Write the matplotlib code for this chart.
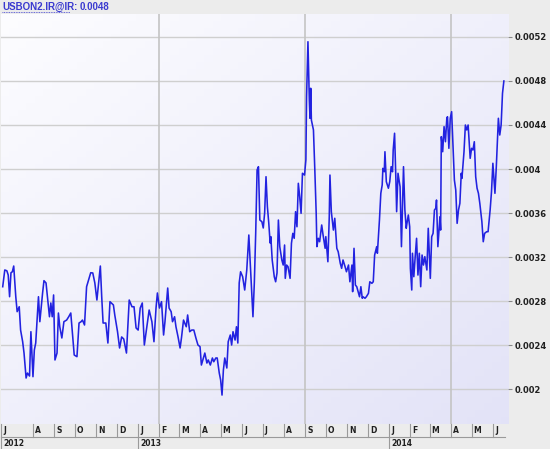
import numpy as np
import pandas as pd
import matplotlib
matplotlib.use('Agg')
import matplotlib.pyplot as plt
import matplotlib.dates as mdates
import matplotlib.transforms as mtransforms

# series: days since 2012-06-18 and value in units of 1e-4
start = pd.Timestamp('2012-06-18')
day_offset = [
    0, 3, 6, 8, 10, 12, 14, 16, 19, 21, 24, 26, 29, 31, 34, 36, 39, 41, 44, 46,
    48, 52, 54, 58, 60, 63, 65, 68, 70, 72, 74, 76, 79, 81, 83, 86, 89, 93, 96, 99,
    101, 104, 108, 111, 114, 116, 119, 122, 128, 131, 134, 137, 142, 144, 146, 150, 153, 156, 161, 163,
    167, 170, 173, 176, 180, 184, 188, 191, 194, 197, 200, 203, 206, 209, 213, 217, 220, 223, 225, 228,
    231, 234, 236, 240, 242, 245, 247, 250, 252, 255, 258, 260, 263, 267, 269, 272, 275, 278, 281, 284,
    287, 289, 292, 294, 297, 299, 302, 305, 307, 310, 312, 315, 317, 319, 321, 323, 326, 328, 331, 333,
    335, 338, 340, 342, 344, 346, 349, 352, 355, 358, 361, 364, 366, 368, 370, 372, 374, 377, 379, 381,
    383, 385, 387, 389, 390, 392, 395, 397, 399, 401, 403, 406, 408, 410, 411, 413, 415, 418, 420, 422,
    424, 426, 428, 430, 432, 434, 436, 439, 441, 442, 444, 446, 447, 448, 449, 452, 454, 456, 457, 459,
    461, 464, 466, 469, 470, 473, 475, 476, 478, 481, 483, 486, 488, 491, 493, 495, 498, 500, 503, 505,
    508, 509, 511, 513, 515, 517, 519, 521, 523, 524, 527, 529, 532, 534, 537, 539, 541, 544, 545, 548,
    550, 552, 553, 555, 556, 558, 561, 563, 565, 567, 568, 570, 572, 573, 575, 578, 580, 583, 585, 587,
    588, 590, 592, 593, 595, 596, 598, 600, 602, 604, 606, 608, 610, 612, 614, 617, 619, 622, 624, 626,
    628, 630, 631, 633, 635, 636, 637, 638, 640, 642, 644, 646, 647, 649, 651, 653, 655, 657, 659, 661,
    663, 665, 667, 668, 671, 673, 675, 677, 680, 682, 684, 686, 688, 690, 692, 694, 697, 699, 701, 704,
    706, 709, 711, 713, 716, 718, 721, 723, 725, 727, 729,
]
rate_e4 = [
    29.30, 30.82, 30.75, 30.36, 28.39, 30.57, 30.66, 31.18, 28.39, 27.03, 27.48, 25.36, 24.30, 23.27, 21.00, 21.45, 21.18, 25.21, 21.12, 23.55,
    24.18, 28.39, 26.12, 28.73, 29.85, 29.64, 28.39, 26.57, 27.82, 26.57, 28.55, 22.64, 23.27, 26.91, 25.66, 24.64, 26.12, 26.27, 26.57, 26.91,
    25.36, 23.09, 22.94, 26.00, 26.12, 26.27, 25.82, 29.30, 30.57, 30.55, 29.64, 28.09, 31.18, 28.39, 26.00, 26.00, 24.18, 27.94, 27.64, 26.73,
    25.21, 23.73, 24.73, 24.55, 23.27, 28.09, 27.48, 27.48, 25.55, 25.36, 27.36, 27.82, 24.00, 25.36, 27.18, 26.12, 24.30, 27.36, 28.73, 27.36,
    27.94, 24.91, 26.12, 29.18, 27.36, 27.03, 26.12, 26.57, 25.66, 24.75, 23.73, 24.64, 26.27, 25.66, 26.73, 25.21, 25.36, 25.36, 24.64, 24.00,
    23.85, 22.18, 22.82, 23.27, 22.36, 22.64, 22.18, 22.82, 22.48, 22.82, 22.82, 21.45, 20.82, 19.45, 21.73, 22.82, 21.91, 24.30, 24.91, 24.00,
    25.21, 24.45, 25.66, 24.18, 29.64, 30.66, 30.21, 29.00, 30.82, 34.00, 30.21, 26.57, 29.64, 34.18, 39.91, 40.21, 35.36, 35.21, 34.64, 36.00,
    39.30, 36.57, 35.09, 33.27, 33.85, 31.73, 30.21, 29.75, 30.55, 35.36, 32.94, 31.73, 31.27, 33.09, 30.06, 31.27, 31.12, 30.06, 33.25, 34.15,
    33.70, 36.12, 34.75, 38.70, 37.48, 35.97, 39.61, 39.45, 40.82, 46.57, 51.57, 46.27, 44.61, 47.34, 44.45, 43.55, 39.91, 35.97, 32.94, 33.70,
    33.39, 34.91, 34.00, 32.79, 33.85, 31.57, 35.66, 39.45, 36.12, 34.45, 35.52, 32.79, 32.48, 31.43, 30.97, 31.73, 31.12, 30.66, 31.27, 29.75,
    31.27, 28.85, 32.79, 29.45, 29.30, 28.85, 28.39, 29.30, 28.25, 28.39, 28.25, 28.39, 28.70, 29.75, 29.61, 29.75, 32.18, 32.94, 32.34, 35.36,
    37.79, 38.55, 40.06, 39.75, 41.57, 38.85, 38.25, 38.85, 40.21, 39.75, 41.73, 43.25, 38.85, 36.12, 39.61, 38.39, 32.94, 40.21, 36.27, 34.61,
    35.06, 35.82, 34.75, 30.97, 29.00, 32.34, 30.21, 32.03, 33.70, 30.36, 32.34, 29.30, 32.18, 31.27, 32.03, 30.82, 34.61, 30.06, 33.85, 34.15,
    36.27, 36.43, 37.18, 32.94, 34.75, 35.66, 34.45, 42.94, 41.57, 43.85, 42.48, 44.61, 44.75, 41.88, 44.61, 45.21, 42.03, 39.00, 38.09, 35.06,
    36.27, 36.88, 39.61, 39.15, 41.57, 44.00, 43.55, 44.00, 40.97, 41.88, 41.73, 42.48, 39.30, 38.25, 37.79, 36.88, 35.21, 33.39, 34.15, 34.30,
    34.30, 36.27, 37.94, 40.52, 37.79, 40.21, 44.61, 43.09, 44.00, 46.88, 48.00,
]

ytick_vals = [0.002, 0.0024, 0.0028, 0.0032, 0.0036, 0.004, 0.0044, 0.0048, 0.0052]
ytick_labels = ['0.002', '0.0024', '0.0028', '0.0032', '0.0036', '0.004', '0.0044', '0.0048', '0.0052']
vgrid_dates = ['2013-02-01', '2013-09-01', '2014-04-01']
year_labels = ['2012', '2013', '2014']
title_name = 'USBON2.IR@IR:'
title_value = '0.0048'

dates = start + pd.to_timedelta(day_offset, unit='D')
values = np.array(rate_e4) * 1e-4

fig = plt.figure(figsize=(5.5, 4.49), dpi=100)
fig.patch.set_facecolor('#ececec')
ax = fig.add_axes([1 / 550, 1 - 424 / 449, 507 / 550, 410 / 449])

x0 = mdates.date2num(start) - 2.5
x1 = mdates.date2num(start) + 735
y0, y1 = 0.001682, 0.005409

# soft gradient background
n = 60
gx, gy = np.meshgrid(np.linspace(0, 1, n), np.linspace(0, 1, n))
t = (gx + gy) / 2
c0 = np.array([0.99, 0.99, 1.0])
c1 = np.array([0.89, 0.89, 0.97])
grad = c0[None, None, :] * (1 - t[..., None]) + c1[None, None, :] * t[..., None]
ax.imshow(grad, extent=[0, 1, 0, 1], transform=ax.transAxes, aspect='auto',
          zorder=0, origin='upper')

for v in ytick_vals:
    ax.axhline(v, color='#cfcfcf', lw=1.0, zorder=1)
for d in vgrid_dates:
    ax.axvline(mdates.date2num(pd.Timestamp(d)), color='#c4c4c4', lw=1.2, zorder=1)

ax.plot(mdates.date2num(dates), values, color='#2222e0', lw=1.15, zorder=3)

ax.set_xlim(x0, x1)
ax.set_ylim(y0, y1)
ax.set_xticks([])
ax.yaxis.tick_right()
ax.set_yticks(ytick_vals)
ax.set_yticklabels(ytick_labels, fontsize=6, fontweight='bold', color='#202020')
ax.tick_params(axis='y', length=3, width=0.8, color='#888888', pad=2)
for s in ax.spines.values():
    s.set_visible(False)

# month / year strip below the plot
trans = mtransforms.blended_transform_factory(ax.transData, ax.transAxes)
row_h = 13 / 410
months = pd.date_range('2012-07-01', '2014-06-01', freq='MS')
letters = 'JFMAMJJASOND'
for m in months:
    xm = mdates.date2num(m)
    if xm - x0 < 20:
        xm = x0
    ax.plot([xm, xm], [0, -row_h], color='#9a9a9a', lw=0.8, transform=trans, clip_on=False)
    ax.text(xm + 3, -row_h / 2, letters[m.month - 1], transform=trans, fontsize=5.5,
            fontweight='bold', va='center', ha='left', color='#202020', clip_on=False)
ax.plot([x0, x1 - 4], [-row_h, -row_h], color='#9a9a9a', lw=0.8, transform=trans, clip_on=False)
for yl in year_labels:
    xy = max(mdates.date2num(pd.Timestamp(yl + '-01-01')), x0)
    ax.plot([xy, xy], [-row_h, -2 * row_h], color='#9a9a9a', lw=0.8, transform=trans, clip_on=False)
    ax.text(xy + 3, -1.5 * row_h, yl, transform=trans, fontsize=5.5, fontweight='bold',
            va='center', ha='left', color='#202020', clip_on=False)

fig.text(2 / 550, 1 - 7 / 449, title_name, fontsize=7, fontweight='bold',
         family='Liberation Sans', color='#3a3ad0', va='center', ha='left')
fig.text(80 / 550, 1 - 7 / 449, title_value, fontsize=7, fontweight='bold',
         family='Liberation Sans', color='#3a3ad0', va='center', ha='left')
fig.add_artist(plt.Line2D([2 / 550, 70 / 550], [1 - 12 / 449, 1 - 12 / 449],
                          color='#3a3ad0', lw=0.6, ls=(0, (1, 1)), transform=fig.transFigure))

fig.savefig('out.png', dpi=100, facecolor=fig.get_facecolor())
